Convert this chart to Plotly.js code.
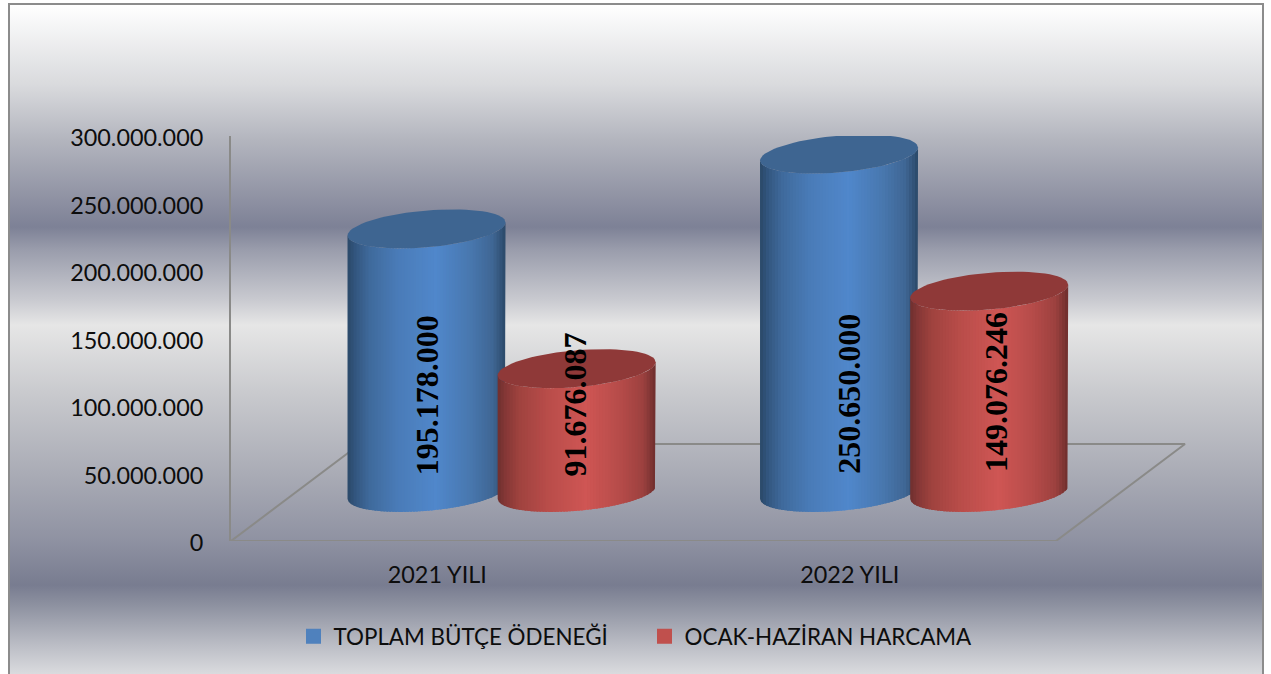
<!DOCTYPE html>
<html>
<head>
<meta charset="utf-8">
<script src="https://cdn.plot.ly/plotly-3.0.1.min.js"></script>
<style>
html,body{margin:0;padding:0;background:#fff;overflow:hidden}
#frame{position:absolute;left:8px;top:3px;width:1252px;height:680px;border:2px solid #8c8c8c;
background:linear-gradient(to bottom,#ffffff 0px,#d9dadd 80px,#b3b5be 135px,#8b8ea0 200px,#7d8196 222px,#9a9dac 245px,#c9cad0 295px,#e6e6e6 320px,#c8c9cd 390px,#a9abb5 470px,#8f92a2 535px,#787c90 580px,#8d91a0 600px,#bbbdc5 640px,#dcdde0 671px,#e2e2e4 680px)}
#chart{position:absolute;left:0;top:0;width:1271px;height:674px}
</style>
</head>
<body>
<div id="frame"></div>
<div id="chart"></div>
<script>
// ---- data ----
const categories = ['2021 YILI', '2022 YILI'];
const budget = [195178000, 250650000];
const spending = [91676087, 149076246];
const budgetName = 'TOPLAM BÜTÇE ÖDENEĞİ';
const spendingName = 'OCAK-HAZİRAN HARCAMA';
const yTicks = [0, 50000000, 100000000, 150000000, 200000000, 250000000, 300000000];
const yTickText = ['0', '50.000.000', '100.000.000', '150.000.000', '200.000.000', '250.000.000', '300.000.000'];
const budgetLabels = ['195.178.000', '250.650.000'];
const spendingLabels = ['91.676.087', '149.076.246'];

// ---- drawing style ----
const pxX = 412.5, pxY = 405 / 300e6;          // pixels per axis unit
const A = 79 / pxX, B = 18.4 / pxY, K = 6.5 / pxY; // tilted ellipse radii
const BASE = 36e6;                              // depth offset of the bars on the floor
const OFFSET = {blue: -0.026, red: 0.338};
const STRIPS = 53;
const blueRamp = [[0,'#2a4868'],[0.05,'#33567f'],[0.14,'#3f6a9c'],[0.32,'#4a7cb8'],[0.56,'#5087cb'],[0.78,'#4877ae'],[0.92,'#3f6694'],[1,'#2b4868']];
const redRamp = [[0,'#6f2f2e'],[0.05,'#853736'],[0.14,'#a0433f'],[0.32,'#b94d4a'],[0.56,'#cf5654'],[0.78,'#b54b49'],[0.92,'#9c413f'],[1,'#6e2e2d']];
const blueTop = '#3e6591', redTop = '#8f3938';
const lineCol = '#8a8a88';
const fontSans = 'Lato, "Open Sans", sans-serif';
const textCol = '#0d0d0d';

function hex(c){return [1,3,5].map(i=>parseInt(c.substr(i,2),16));}
function ramp(r,u){
  for(let i=1;i<r.length;i++){ if(u<=r[i][0]){
    const f=(u-r[i-1][0])/(r[i][0]-r[i-1][0]), a=hex(r[i-1][1]), b=hex(r[i][1]);
    return 'rgb('+a.map((v,j)=>Math.round(v+(b[j]-v)*f)).join(',')+')';
  }}
  return r[r.length-1][1];
}
// y offset of the front (lower) arc of the tilted ellipse at horizontal fraction s in [-1,1]
function frontArc(s){ const c=Math.max(-1,Math.min(1,s)); return -B*Math.sqrt(1-c*c) + K*c; }

const traces = [];
// floor outline
traces.push({type:'scatter',mode:'lines',hoverinfo:'skip',showlegend:false,cliponaxis:false,
  x:[-0.5, 1.5, 1.5+129/pxX, -0.5+129/pxX, -0.5],
  y:[0,0,97/pxY,97/pxY,0],
  line:{color:lineCol,width:2}});

function cylinder(cx, value, rmp, topCol){
  const top = BASE + value;
  for(let i=0;i<STRIPS;i++){
    const u0=i/STRIPS, u1=(i+1)/STRIPS, ue=i===STRIPS-1?u1:Math.min(1,u1+0.6/STRIPS);
    const xs=[],ys=[],n=4;
    for(let j=0;j<=n;j++){const s=(u0+(ue-u0)*j/n)*2-1; xs.push(cx+A*s); ys.push(top+frontArc(s));}
    for(let j=n;j>=0;j--){const s=(u0+(ue-u0)*j/n)*2-1; xs.push(cx+A*s); ys.push(BASE+frontArc(s));}
    traces.push({type:'scatter',mode:'lines',hoverinfo:'skip',showlegend:false,cliponaxis:false,x:xs,y:ys,
      fill:'toself',fillcolor:ramp(rmp,(u0+u1)/2),line:{width:0}});
  }
  const tx=[],ty=[];
  for(let t=0;t<=72;t++){const a=t/72*2*Math.PI; tx.push(cx+A*Math.cos(a)); ty.push(top+B*Math.sin(a)+K*Math.cos(a));}
  traces.push({type:'scatter',mode:'lines',hoverinfo:'skip',showlegend:false,cliponaxis:false,x:tx,y:ty,
    fill:'toself',fillcolor:topCol,line:{width:0}});
}
categories.forEach((c,i)=>{
  cylinder(i+OFFSET.blue, budget[i], blueRamp, blueTop);
  cylinder(i+OFFSET.red, spending[i], redRamp, redTop);
});
// legend entries
traces.push({type:'scatter',mode:'markers',name:budgetName,x:[null],y:[null],marker:{symbol:'square',size:15,color:'#4f81bd'}});
traces.push({type:'scatter',mode:'markers',name:spendingName,x:[null],y:[null],marker:{symbol:'square',size:15,color:'#c0504d'}});

const labelFont = {family:'"Liberation Serif", serif',size:32,color:'#000'};
const labelShift = {blue:[0,10], red:[-2,7]};
const labelBottom = {blue:[46.8e6,48.3e6], red:[46e6,49.7e6]};
const annotations = [];
categories.forEach((c,i)=>{
  annotations.push({x:i+OFFSET.blue,y:labelBottom.blue[i],yanchor:'bottom',xanchor:'center',text:'<b>'+budgetLabels[i]+'</b>',textangle:-90,showarrow:false,font:labelFont,xshift:labelShift.blue[i]});
  annotations.push({x:i+OFFSET.red,y:labelBottom.red[i],yanchor:'bottom',xanchor:'center',text:'<b>'+spendingLabels[i]+'</b>',textangle:-90,showarrow:false,font:labelFont,xshift:labelShift.red[i]});
});

const layout = {
  width:1271,height:674,
  margin:{l:231,r:71,t:136,b:133,pad:0},
  paper_bgcolor:'rgba(0,0,0,0)',plot_bgcolor:'rgba(0,0,0,0)',
  hovermode:false,
  font:{family:fontSans,size:23,color:textCol},
  xaxis:{range:[-0.5,-0.5+969/pxX],tickmode:'array',tickvals:categories.map((c,i)=>i),ticktext:categories,
    showgrid:false,zeroline:false,showline:false,ticks:'',ticklabelstandoff:18,tickfont:{family:fontSans,size:23.4,color:textCol}},
  yaxis:{range:[0,300e6],tickmode:'array',tickvals:yTicks,ticktext:yTickText,showgrid:false,zeroline:false,
    showline:true,linecolor:lineCol,linewidth:2,ticks:'',ticklabelstandoff:21,ticklabelshift:2,tickfont:{family:fontSans,size:23.4,color:textCol}},
  legend:{orientation:'h',x:0.0645,xanchor:'left',xref:'paper',y:-0.183,yanchor:'top',
    bgcolor:'rgba(0,0,0,0)',font:{family:fontSans,size:22.4,color:textCol},itemwidth:30,entrywidth:306,entrywidthmode:'pixels',itemclick:false,itemdoubleclick:false},
  annotations
};
Plotly.newPlot('chart',traces,layout,{displayModeBar:false,staticPlot:true});
</script>
</body>
</html>
